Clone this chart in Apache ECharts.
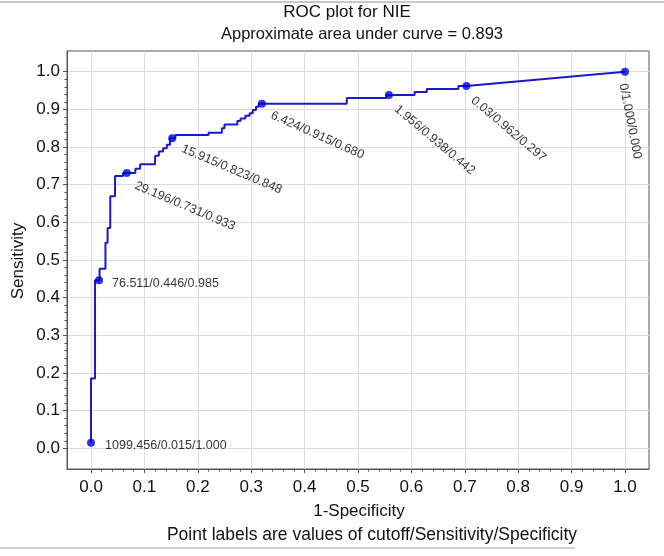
<!DOCTYPE html>
<html>
<head>
<meta charset="utf-8">
<script src="https://cdn.jsdelivr.net/npm/echarts@6/dist/echarts.min.js"></script>
<style>html,body{margin:0;padding:0;background:#fff}#c{width:664px;height:556px}</style>
</head>
<body>
<div id="c"></div>
<script>
// ROC step curve (1-Specificity, Sensitivity)
const rocX = [0, 0, 0.0074, 0.0074, 0.016, 0.016, 0.027, 0.027, 0.031, 0.031, 0.036, 0.036, 0.045, 0.045, 0.060, 0.060, 0.067,
  0.083, 0.083, 0.092, 0.092, 0.120, 0.120, 0.127, 0.127, 0.135, 0.135, 0.142, 0.142, 0.148, 0.148, 0.152,
  0.158, 0.158, 0.220, 0.220, 0.245, 0.245, 0.250, 0.250, 0.274, 0.274, 0.280, 0.280, 0.289, 0.289, 0.297, 0.297,
  0.303, 0.303, 0.309, 0.309, 0.314, 0.314, 0.320,
  0.479, 0.479, 0.553, 0.553, 0.558, 0.606, 0.606, 0.629, 0.629, 0.688, 0.688, 0.703, 1.0];
const rocY = [0.015, 0.185, 0.185, 0.446, 0.446, 0.477, 0.477, 0.546, 0.546, 0.585, 0.585, 0.669, 0.669, 0.723, 0.723, 0.731, 0.731,
  0.731, 0.742, 0.742, 0.754, 0.754, 0.777, 0.777, 0.788, 0.788, 0.797, 0.797, 0.806, 0.806, 0.823, 0.823,
  0.823, 0.832, 0.832, 0.838, 0.838, 0.850, 0.850, 0.860, 0.860, 0.869, 0.869, 0.876, 0.876, 0.883, 0.883, 0.890,
  0.890, 0.898, 0.898, 0.907, 0.907, 0.915, 0.915,
  0.915, 0.930, 0.930, 0.938, 0.938, 0.938, 0.946, 0.946, 0.954, 0.954, 0.962, 0.962, 1.0];

// labelled cutoff points
const pointX = [0, 0.015, 0.067, 0.152, 0.320, 0.558, 0.703, 1.0];
const pointY = [0.015, 0.446, 0.731, 0.823, 0.915, 0.938, 0.962, 1.0];
const pointLabels = ['1099.456/0.015/1.000', '76.511/0.446/0.985', '29.196/0.731/0.933', '15.915/0.823/0.848',
  '6.424/0.915/0.680', '1.956/0.938/0.442', '0.03/0.962/0.297', '0/1.000/0.000'];
const labelAngles = [0, 0, -23, -23, -24, -40, -40, -79];
const labelOffsets = [[14, 3], [13, 3], [8.5, 12], [10, 10], [9.5, 11], [7, 12.5], [6, 13], [-2, 12]];

// axis tick values
const majorTicks = [0, 0.1, 0.2, 0.3, 0.4, 0.5, 0.6, 0.7, 0.8, 0.9, 1.0];
const minorTicks = [];
for (let i = 0; i <= 50; i++) minorTicks.push(+(i * 0.02).toFixed(2));

const titleText = 'ROC plot for NIE';
const subTitleText = 'Approximate area under curve = 0.893';
const xName = '1-Specificity';
const yName = 'Sensitivity';
const footText = 'Point labels are values of cutoff/Sensitivity/Specificity';

const FONT = 'Liberation Sans, Arial, sans-serif';
const chart = echarts.init(document.getElementById('c'), null, {renderer: 'canvas'});

function mainAxis(min, max, margin) {
  return {
    type: 'value', min: min, max: max,
    axisLine: {onZero: false, lineStyle: {color: '#555', width: 1}},
    axisTick: {show: true, inside: false, length: 4, customValues: majorTicks, lineStyle: {color: '#555'}},
    minorTick: {show: false},
    splitLine: {show: true, lineStyle: {color: '#dcdcdc', width: 1}},
    axisLabel: {color: '#111', fontSize: 17, fontFamily: FONT, margin: margin, customValues: majorTicks,
      formatter: v => v.toFixed(1)}
  };
}
function minorAxis(min, max, pos) {
  return {
    type: 'value', min: min, max: max, position: pos,
    axisLine: {show: false, onZero: false},
    axisTick: {show: true, inside: false, length: 2.5, customValues: minorTicks, lineStyle: {color: '#555'}},
    splitLine: {show: false},
    axisLabel: {show: false}
  };
}

chart.setOption({
  animation: false,
  grid: {left: 67, right: 15, top: 51, bottom: 87, show: true, borderColor: '#555', borderWidth: 1, containLabel: false},
  xAxis: [mainAxis(-0.045, 1.045, 10), minorAxis(-0.045, 1.045, 'bottom')],
  yAxis: [mainAxis(-0.055, 1.055, 7), minorAxis(-0.055, 1.055, 'left')],
  graphic: [
    {type: 'text', x: 347, y: 12, style: {text: titleText, font: '17px ' + FONT, fill: '#111', align: 'center', verticalAlign: 'middle'}},
    {type: 'text', x: 362, y: 34, style: {text: subTitleText, font: '16.5px ' + FONT, fill: '#111', align: 'center', verticalAlign: 'middle'}},
    {type: 'text', x: 359, y: 511, style: {text: xName, font: '17px ' + FONT, fill: '#111', align: 'center', verticalAlign: 'middle'}},
    {type: 'text', x: 372, y: 535, style: {text: footText, font: '17.5px ' + FONT, fill: '#111', align: 'center', verticalAlign: 'middle'}},
    {type: 'text', x: 18, y: 261, rotation: Math.PI / 2, style: {text: yName, font: '17px ' + FONT, fill: '#111', align: 'center', verticalAlign: 'middle'}},
    {type: 'line', shape: {x1: 0, y1: 2, x2: 664, y2: 2}, style: {stroke: '#c8c8c8', lineWidth: 2}},
    {type: 'line', shape: {x1: 0, y1: 548, x2: 575, y2: 548}, style: {stroke: '#d0d0d0', lineWidth: 2}}
  ],
  series: [
    {
      type: 'line',
      data: rocX.map((x, i) => [x, rocY[i]]),
      showSymbol: false,
      symbol: 'none',
      lineStyle: {color: '#1a1acc', width: 2},
      z: 3
    },
    {
      type: 'scatter',
      symbolSize: 8,
      itemStyle: {color: '#0000dd'},
      z: 4,
      data: pointX.map((x, i) => ({
        value: [x, pointY[i]],
        label: {
          show: true,
          formatter: pointLabels[i],
          position: [labelOffsets[i][0] + 4, labelOffsets[i][1] + 4],
          rotate: labelAngles[i],
          align: 'left',
          verticalAlign: 'middle',
          color: '#000',
          fontSize: 12.5,
          fontFamily: FONT
        }
      }))
    }
  ]
});
</script>
</body>
</html>
